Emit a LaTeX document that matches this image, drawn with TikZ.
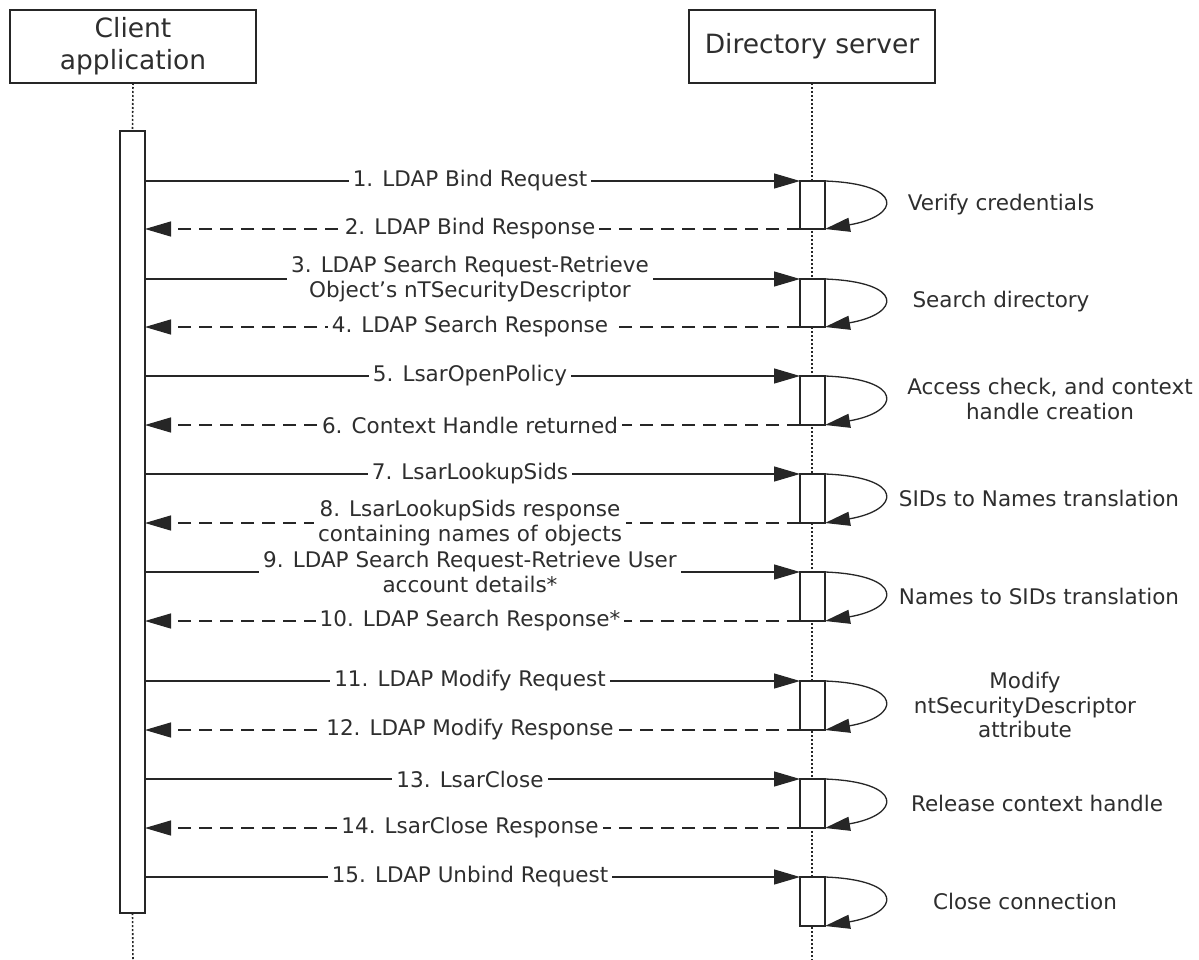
\documentclass[tikz,border=0pt]{standalone}
\usepackage{fontspec}
\setmainfont{DejaVu Sans}
\usetikzlibrary{arrows.meta}
\definecolor{ink}{HTML}{262626}
\definecolor{txt}{HTML}{2e2e2e}
\begin{document}
\begin{tikzpicture}[x=1pt,y=-1pt,
  lbl/.style={font=\fontsize{21.5}{24.5}\selectfont, text=txt, align=center, fill=white, inner sep=4pt},
  side/.style={font=\fontsize{21.5}{24.5}\selectfont, text=txt, align=center, inner sep=0pt},
  head/.style={draw=ink, line width=1.3pt, fill=white, minimum width=246pt, minimum height=73pt, inner sep=0pt, outer sep=0pt, align=center, font=\fontsize{26.5}{32}\selectfont, text=txt},
  act/.style={draw=ink, line width=1.3pt, fill=white, minimum width=25pt, inner sep=0pt, outer sep=0pt},
  life/.style={draw=ink, line width=1.6pt, dash pattern=on 2pt off 2pt},
  req/.style={draw=ink, line width=1.3pt, -{Triangle[length=26pt,width=15pt]}},
  resp/.style={req, dash pattern=on 13pt off 8pt},
  selfloop/.style={draw=ink, line width=1.3pt, -{Triangle[length=25pt,width=14pt]}}]
\useasboundingbox (0,0) rectangle (1199,960);
\fill[white] (0,0) rectangle (1199,960);

% headers
\node[head] (client) at (133,46.5) {Client\\application};
\node[head] (server) at (812,46.5) {Directory server};
\coordinate (cend) at (133,960);
\coordinate (send) at (812,960);

% lifelines
\draw[life] (server.south) -- (send);

% client activation bar
\node[act, minimum height=782pt] (cbar) at (132.5,522) {};
\draw[life] (client.south) -- (cbar.north);
\draw[life] (cbar.south) -- (cend);

% server activation boxes
\node[act, minimum height=48pt] (s1) at (812.5,205) {};
\node[act, minimum height=48pt] (s2) at (812.5,303) {};
\node[act, minimum height=49pt] (s3) at (812.5,400.5) {};
\node[act, minimum height=49pt] (s4) at (812.5,498.5) {};
\node[act, minimum height=49pt] (s5) at (812.5,596.5) {};
\node[act, minimum height=49pt] (s6) at (812.5,705.5) {};
\node[act, minimum height=49pt] (s7) at (812.5,803.5) {};
\node[act, minimum height=49pt] (s8) at (812.5,901.5) {};

% messages
\foreach \s in {s1,s2,s3,s4,s5,s6,s7,s8}{
  \draw[req] (cbar.east |- \s.north west) -- (\s.north west);
  \draw[selfloop] (\s.north east) .. controls +(80,3) and +(76,-13) .. (\s.south east);
}
\foreach \s in {s1,s2,s3,s4,s5,s6,s7}{
  \draw[resp] (\s.south west) -- (cbar.east |- \s.south west);
}

% message labels
\node[lbl] (m1) at (470,181) {1. LDAP Bind Request};
\node[lbl] (m2) at (470,229) {2. LDAP Bind Response};
\node[lbl] (m3) at (470,279) {3. LDAP Search Request-Retrieve\\Object’s nTSecurityDescriptor};
\node[lbl] (m4) at (470,327) {4. LDAP Search Response};
\node[lbl] (m5) at (470,376) {5. LsarOpenPolicy};
\node[lbl] (m6) at (470,425) {6. Context Handle returned};
\node[lbl] (m7) at (470,474) {7. LsarLookupSids};
\node[lbl] (m8) at (470,523) {8. LsarLookupSids response\\containing names of objects};
\node[lbl] (m9) at (470,572) {9. LDAP Search Request-Retrieve User\\account details*};
\node[lbl] (m10) at (470,621) {10. LDAP Search Response*};
\node[lbl] (m11) at (470,681) {11. LDAP Modify Request};
\node[lbl] (m12) at (470,730) {12. LDAP Modify Response};
\node[lbl] (m13) at (470,779) {13. LsarClose};
\node[lbl] (m14) at (470,828) {14. LsarClose Response};
\node[lbl] (m15) at (470,877) {15. LDAP Unbind Request};

% side notes
\node[side] (n1) at (1001,205) {Verify credentials};
\node[side] (n2) at (1001,302) {Search directory};
\node[side] (n3) at (1050,399) {Access check, and context\\handle creation};
\node[side] (n4) at (1039,498) {SIDs to Names translation};
\node[side] (n5) at (1039,596) {Names to SIDs translation};
\node[side] (n6) at (1025,705) {Modify\\ntSecurityDescriptor\\attribute};
\node[side] (n7) at (1037,803) {Release context handle};
\node[side] (n8) at (1025,901) {Close connection};
\end{tikzpicture}
\end{document}
